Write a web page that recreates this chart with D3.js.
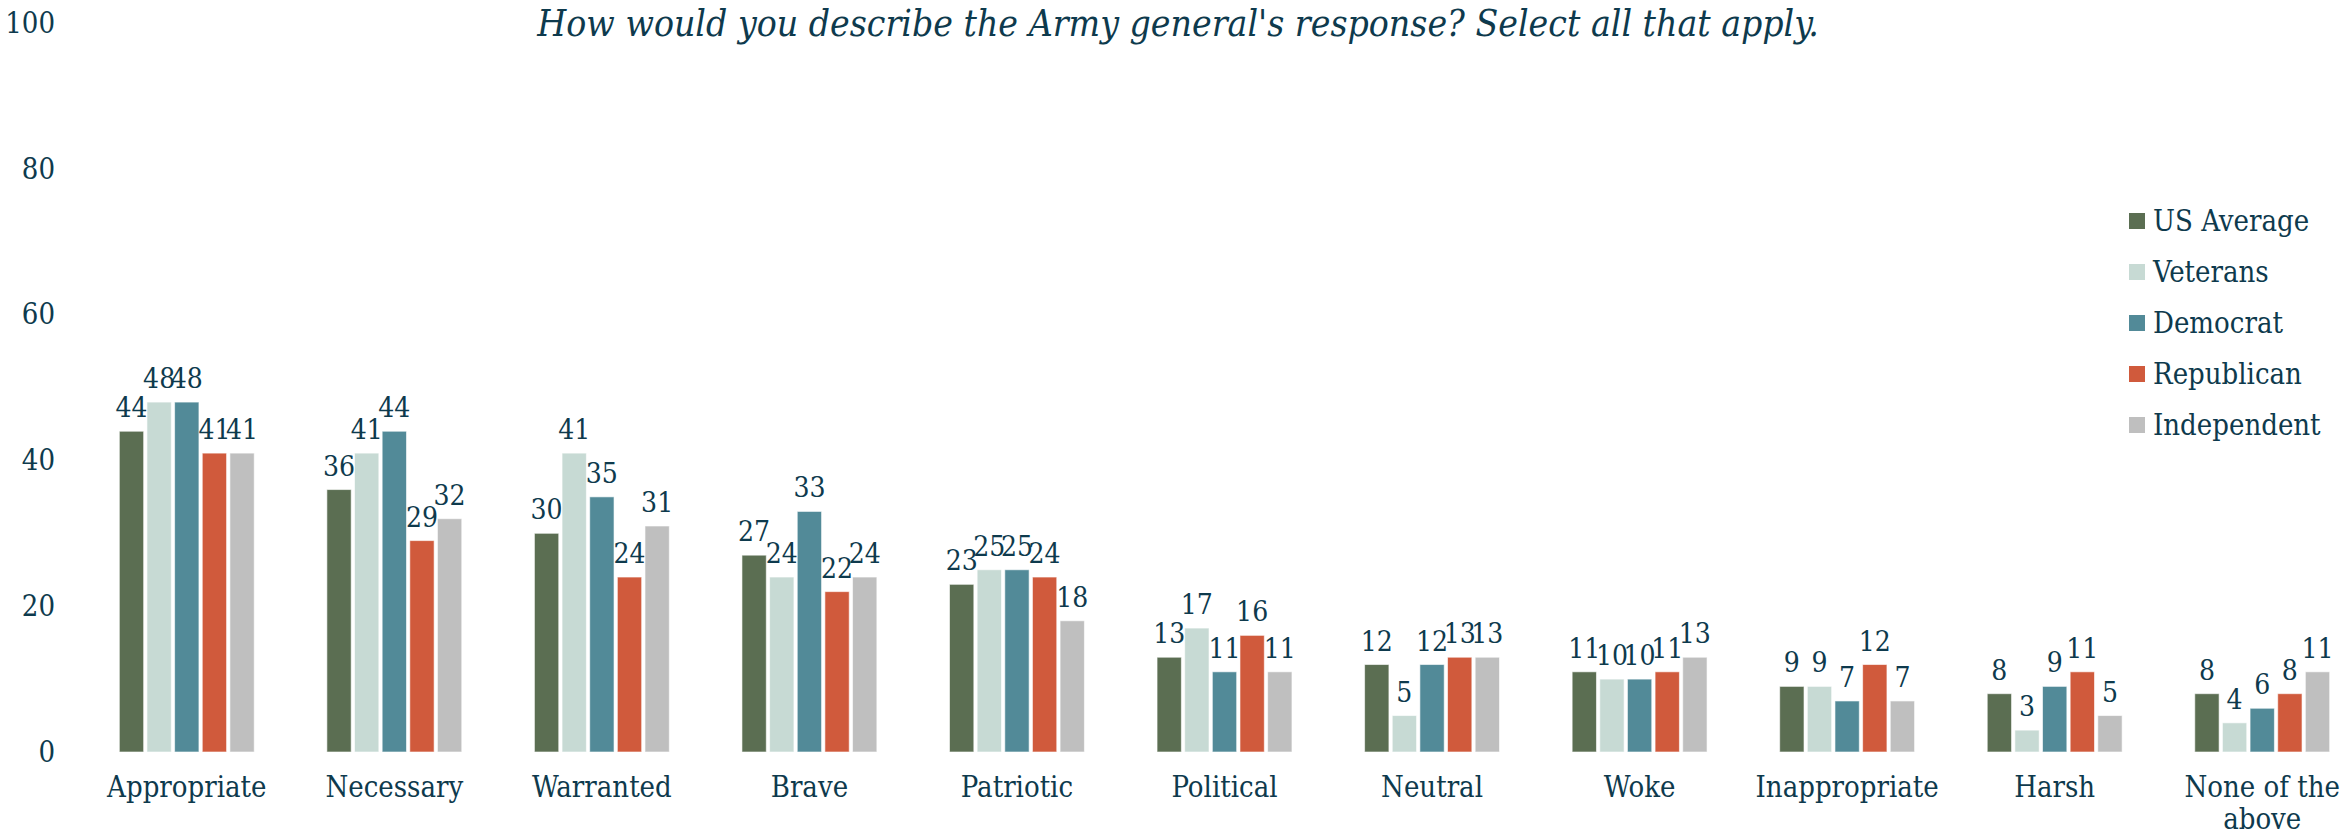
<!DOCTYPE html>
<html>
<head>
<meta charset="utf-8">
<script src="https://cdn.jsdelivr.net/npm/d3@7"></script>
<style>
  body { margin: 0; background: #fff; }
  svg text { font-family: "DejaVu Serif Condensed", "DejaVu Serif", serif; font-stretch: condensed; fill: #0e3a4d; }
</style>
</head>
<body>
<div class="chart"></div>
<script>
const categories = ["Appropriate", "Necessary", "Warranted", "Brave", "Patriotic", "Political",
  "Neutral", "Woke", "Inappropriate", "Harsh", "None of the above"];
const series = ["US Average", "Veterans", "Democrat", "Republican", "Independent"];
const usAverage   = [44, 36, 30, 27, 23, 13, 12, 11, 9, 8, 8];
const veterans    = [48, 41, 41, 24, 25, 17, 5, 10, 9, 3, 4];
const democrat    = [48, 44, 35, 33, 25, 11, 12, 10, 7, 9, 6];
const republican  = [41, 29, 24, 22, 24, 16, 13, 11, 12, 11, 8];
const independent = [41, 32, 31, 24, 18, 11, 13, 13, 7, 5, 11];
const yTicks = [0, 20, 40, 60, 80, 100];
const title = "How would you describe the Army general's response? Select all that apply.";

const colors = ["#5b6e52", "#c7dad4", "#528a98", "#d05a3c", "#bfbfbf"];
const allValues = [usAverage, veterans, democrat, republican, independent];

const width = 2344, height = 836;

const svg = d3.select(".chart")
  .append("svg")
  .attr("width", width)
  .attr("height", height);

const x = d3.scaleBand()
  .domain(categories)
  .range([83, 2366])
  .paddingInner(0.35)
  .paddingOuter(0.175);

const xInner = d3.scaleBand()
  .domain(series)
  .range([0, x.bandwidth()])
  .paddingInner(0.12);

const y = d3.scaleLinear()
  .domain([0, 100])
  .range([752, 23]);

const color = d3.scaleOrdinal(series, colors);

// title
svg.append("text")
  .attr("x", 1178)
  .attr("y", 36)
  .attr("text-anchor", "middle")
  .style("font-size", "37px")
  .style("font-style", "italic")
  .text(title);

// y axis, no line
const yAxis = svg.append("g")
  .attr("transform", "translate(62,0)")
  .call(d3.axisLeft(y).tickValues(yTicks).tickSize(0).tickPadding(7));
yAxis.select(".domain").remove();
yAxis.selectAll("text").style("font-size", "29px").style("font-family", null);

// x axis
const xAxis = svg.append("g")
  .attr("transform", "translate(0,752)")
  .call(d3.axisBottom(x).tickSize(0).tickPadding(24));
xAxis.select(".domain").remove();
xAxis.selectAll("text").style("font-size", "29px").style("font-family", null)
  .call(wrap, x.step());

function wrap(texts, w) {
  texts.each(function () {
    const t = d3.select(this);
    const words = t.text().split(" ");
    const yy = t.attr("y"), dy = parseFloat(t.attr("dy"));
    t.text(null);
    let line = [];
    let tspan = t.append("tspan").attr("x", 0).attr("y", yy).attr("dy", dy + "em");
    let n = 0;
    words.forEach(word => {
      line.push(word);
      tspan.text(line.join(" "));
      if (tspan.node().getComputedTextLength() > w && line.length > 1) {
        line.pop();
        tspan.text(line.join(" "));
        line = [word];
        n++;
        tspan = t.append("tspan").attr("x", 0).attr("y", yy)
          .attr("dy", (dy + n * 1.12) + "em").text(word);
      }
    });
  });
}

// bars
const groups = svg.selectAll(".group")
  .data(categories)
  .enter()
  .append("g")
  .attr("class", "group")
  .attr("transform", d => "translate(" + x(d) + ",0)");

const cells = groups.selectAll("g")
  .data((d, i) => series.map((s, j) => ({ key: s, value: allValues[j][i] })))
  .enter()
  .append("g");

cells.append("rect")
  .attr("x", d => xInner(d.key))
  .attr("y", d => y(d.value))
  .attr("width", xInner.bandwidth())
  .attr("height", d => y(0) - y(d.value))
  .attr("fill", d => color(d.key))
  .attr("stroke", "#ffffff")
  .attr("stroke-opacity", 0.6)
  .attr("stroke-width", 1);

cells.append("text")
  .attr("x", d => xInner(d.key) + xInner.bandwidth() / 2)
  .attr("y", d => y(d.value) - 14)
  .attr("text-anchor", "middle")
  .style("font-size", "28px")
  .text(d => d.value);

// legend
const legend = svg.selectAll(".legend")
  .data(series)
  .enter()
  .append("g")
  .attr("class", "legend")
  .attr("transform", (d, i) => "translate(2129," + (221 + i * 51) + ")");

legend.append("rect")
  .attr("y", -8)
  .attr("width", 16)
  .attr("height", 16)
  .attr("fill", d => color(d));

legend.append("text")
  .attr("x", 24)
  .attr("dy", "0.36em")
  .style("font-size", "29px")
  .text(d => d);
</script>
</body>
</html>
